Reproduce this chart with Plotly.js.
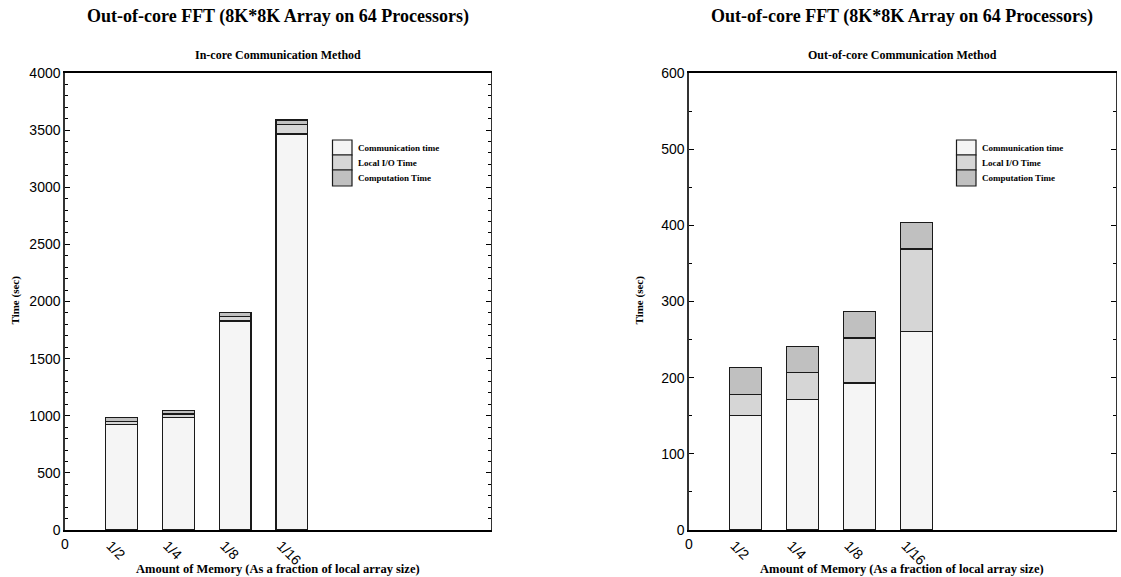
<!DOCTYPE html>
<html>
<head>
<meta charset="utf-8">
<script src="https://cdn.plot.ly/plotly-3.0.1.min.js"></script>
<style>html,body{margin:0;padding:0;background:#fff;}#chart{width:1121px;height:577px;}</style>
</head>
<body>
<div id="chart"></div>
<script>
// ---- data ----
const categories = [1, 2, 3, 4];
const tickVals = [0, 1, 2, 3, 4];
const tickLabels = ["0", "1/2", "1/4", "1/8", "1/16"];
const seriesNames = ["Communication time", "Local I/O Time", "Computation Time"];
const seriesColors = ["#f5f5f5", "#d6d6d6", "#c0c0c0"];

// In-core communication method (left)
const inCoreComm = [925, 985, 1830, 3466];
const inCoreIO = [25, 30, 38, 85];
const inCoreComp = [35, 30, 38, 38];

// Out-of-core communication method (right)
const outCoreComm = [150, 171, 193, 261];
const outCoreIO = [28, 36, 59, 108];
const outCoreComp = [35, 34, 35, 35];

const mainTitle = "Out-of-core FFT (8K*8K Array on 64 Processors)";
const subTitles = ["In-core Communication Method", "Out-of-core Communication Method"];
const xTitle = "Amount of Memory (As a fraction of local array size)";
const yTitle = "Time (sec)";

// ---- layout helpers ----
const W = 1121, H = 577;
const serif = "Liberation Serif, Times New Roman, serif";
const sans = "Liberation Sans, Arial, sans-serif";
const domL = [64.5 / W, 491 / W];
const domR = [688.5 / W, 1116 / W];
const domY = [1 - 530 / H, 1 - 73 / H];

function bars(vals, idx, xa, ya) {
  return {
    type: "bar", x: categories, y: vals, name: seriesNames[idx],
    xaxis: xa, yaxis: ya, width: 0.56, showlegend: false,
    marker: {color: seriesColors[idx], line: {color: "#1a1a1a", width: 1.2}},
    hoverinfo: "skip"
  };
}

const traces = [
  bars(inCoreComm, 0, "x", "y"), bars(inCoreIO, 1, "x", "y"), bars(inCoreComp, 2, "x", "y"),
  bars(outCoreComm, 0, "x2", "y2"), bars(outCoreIO, 1, "x2", "y2"), bars(outCoreComp, 2, "x2", "y2")
];

function xAxis(dom, anchor) {
  return {
    domain: dom, anchor: anchor, range: [0, 7.5],
    tickvals: tickVals.slice(1), ticktext: tickLabels.slice(1),
    tickangle: 45, ticklabelshift: -11, ticks: "", showgrid: false, zeroline: false,
    showline: true, linecolor: "#000", linewidth: 2, mirror: true,
    tickfont: {family: sans, size: 14, color: "#000"}, automargin: false, fixedrange: true
  };
}
function yAxis(anchor, maxV, dt, mdt) {
  return {
    domain: domY, anchor: anchor, range: [0, maxV], dtick: dt, tick0: 0,
    ticks: "inside", ticklen: 5, tickwidth: 1.2, tickcolor: "#000",
    minor: {dtick: mdt, ticks: "inside", ticklen: 3, tickcolor: "#000", tickwidth: 1},
    showgrid: false, zeroline: false, showline: true, linecolor: "#333", linewidth: 1.2, mirror: "allticks",
    tickfont: {family: sans, size: 14, color: "#000"}, automargin: false, fixedrange: true
  };
}

const annotations = [];
const shapes = [];
[[domL, 0, "x"], [domR, 1, "x2"]].forEach(([dom, i, xr]) => {
  const cx = (dom[0] + dom[1]) / 2;
  annotations.push({xref: "paper", yref: "paper", x: cx, y: 1 - 17 / H, text: "<b>" + mainTitle + "</b>",
    showarrow: false, font: {family: serif, size: 18, color: "#000"}, xanchor: "center", yanchor: "middle"});
  annotations.push({xref: "paper", yref: "paper", x: cx, y: 1 - 55 / H, text: "<b>" + subTitles[i] + "</b>",
    showarrow: false, font: {family: serif, size: 12, color: "#000"}, xanchor: "center", yanchor: "middle"});
  annotations.push({xref: "paper", yref: "paper", x: cx, y: 1 - 569 / H, text: "<b>" + xTitle + "</b>",
    showarrow: false, font: {family: serif, size: 12.5, color: "#000"}, xanchor: "center", yanchor: "middle"});
  annotations.push({xref: "paper", yref: "paper", x: (dom[0] * W - 50) / W, y: 1 - 300 / H, text: "<b>" + yTitle + "</b>",
    showarrow: false, textangle: -90, font: {family: serif, size: 11, color: "#000"}, xanchor: "center", yanchor: "middle"});
  // upright origin tick label
  annotations.push({xref: xr, yref: "paper", x: tickVals[0], y: 1 - 544 / H, text: tickLabels[0],
    showarrow: false, font: {family: sans, size: 14, color: "#000"}, xanchor: "center", yanchor: "middle"});
  // legend boxes
  const bx0 = dom[0] * W + 268;
  const rows = [140, 155, 170, 186];
  for (let k = 0; k < 3; k++) {
    shapes.push({type: "rect", xref: "paper", yref: "paper",
      x0: bx0 / W, x1: (bx0 + 19.5) / W, y0: 1 - rows[k + 1] / H, y1: 1 - rows[k] / H,
      fillcolor: seriesColors[k], line: {color: "#1a1a1a", width: 1.2}});
    annotations.push({xref: "paper", yref: "paper", x: (bx0 + 23) / W, y: 1 - (rows[k] + rows[k + 1]) / 2 / H,
      text: "<b>" + seriesNames[k] + "</b>", showarrow: false, xanchor: "left", yanchor: "middle",
      font: {family: serif, size: 9, color: "#000"}});
  }
});

const layout = {
  width: W, height: H, margin: {l: 0, r: 0, t: 0, b: 0},
  paper_bgcolor: "#fff", plot_bgcolor: "#fff", barmode: "stack", bargap: 0,
  showlegend: false,
  xaxis: xAxis(domL, "y"), yaxis: yAxis("x", 4000, 500, 100),
  xaxis2: xAxis(domR, "y2"), yaxis2: yAxis("x2", 600, 100, 50),
  annotations: annotations, shapes: shapes
};

Plotly.newPlot("chart", traces, layout, {displayModeBar: false, staticPlot: true});
</script>
</body>
</html>
